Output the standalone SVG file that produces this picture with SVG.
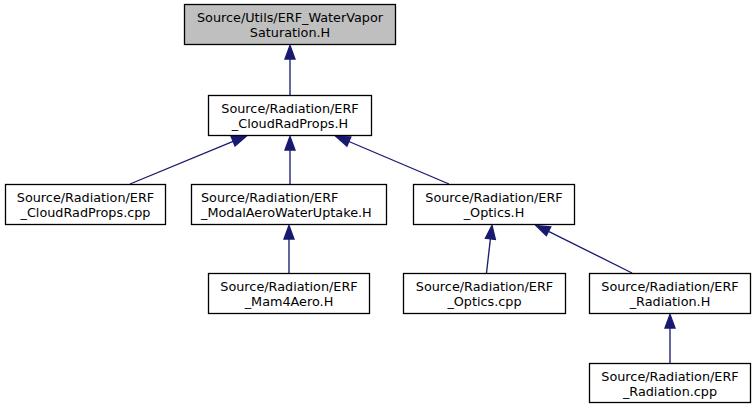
<svg xmlns="http://www.w3.org/2000/svg" width="756" height="409" viewBox="0 0 756 409">
<defs>
<style>
.n rect{fill:#ffffff;stroke:#000000;stroke-width:1.3}
.n.g rect{fill:#bfbfbf}
.n text{font-family:"DejaVu Sans",sans-serif;font-size:12.8px;fill:#000000;text-anchor:middle}
.n text.l{text-anchor:start}
.e line{stroke:#191970;stroke-width:1.33}
.e polygon{fill:#191970;stroke:#191970;stroke-width:1.33}
</style>
</defs>
<rect width="756" height="409" fill="#ffffff"/>
<g id="edges" class="e">
<line x1="290" y1="95" x2="290" y2="59"/>
<polygon points="285,59 290,45.5 295,59"/>
<line x1="130" y1="184" x2="233.1" y2="141.4"/>
<polygon points="235,146 246,136.5 231.2,136.7"/>
<line x1="290" y1="184" x2="290" y2="150"/>
<polygon points="285,150 290,136.5 295,150"/>
<line x1="449" y1="184" x2="348.9" y2="141.5"/>
<polygon points="350.8,136.9 336,136.5 346.9,146.1"/>
<line x1="289" y1="273" x2="289" y2="239"/>
<polygon points="284,239 289,225.5 294,239"/>
<line x1="486.5" y1="273" x2="490.4" y2="238.9"/>
<polygon points="495.4,239.5 492,225.5 485.4,238.3"/>
<line x1="632" y1="273" x2="548.5" y2="231.3"/>
<polygon points="550.8,226.8 536,225.5 546.3,235.7"/>
<line x1="670" y1="363" x2="670" y2="328"/>
<polygon points="665,328 670,314.5 675,328"/>
</g>
<g id="node-top" class="n g">
<rect x="184.5" y="4.5" width="211" height="40"/>
<text x="290" y="22">Source/Utils/ERF_WaterVapor</text>
<text x="290" y="37">Saturation.H</text>
</g>
<g id="node-cloudradprops-h" class="n">
<rect x="208.5" y="95.5" width="163" height="40"/>
<text x="290" y="113">Source/Radiation/ERF</text>
<text x="290" y="128">_CloudRadProps.H</text>
</g>
<g id="node-cloudradprops-cpp" class="n">
<rect x="5.5" y="184.5" width="160" height="40"/>
<text x="85.5" y="202">Source/Radiation/ERF</text>
<text x="85.5" y="217">_CloudRadProps.cpp</text>
</g>
<g id="node-modalaero" class="n">
<rect x="191.5" y="184.5" width="195" height="40"/>
<text class="l" x="201" y="202">Source/Radiation/ERF</text>
<text class="l" x="201" y="217">_ModalAeroWaterUptake.H</text>
</g>
<g id="node-optics-h" class="n">
<rect x="413.5" y="184.5" width="161" height="40"/>
<text x="494" y="202">Source/Radiation/ERF</text>
<text x="494" y="217">_Optics.H</text>
</g>
<g id="node-mam4aero" class="n">
<rect x="208.5" y="273.5" width="161" height="40"/>
<text x="289" y="291">Source/Radiation/ERF</text>
<text x="289" y="306">_Mam4Aero.H</text>
</g>
<g id="node-optics-cpp" class="n">
<rect x="403.5" y="273.5" width="162" height="40"/>
<text x="484.5" y="291">Source/Radiation/ERF</text>
<text x="484.5" y="306">_Optics.cpp</text>
</g>
<g id="node-radiation-h" class="n">
<rect x="589.5" y="273.5" width="161" height="40"/>
<text x="670" y="291">Source/Radiation/ERF</text>
<text x="670" y="306">_Radiation.H</text>
</g>
<g id="node-radiation-cpp" class="n">
<rect x="589.5" y="363.5" width="161" height="39"/>
<text x="670" y="381">Source/Radiation/ERF</text>
<text x="670" y="396">_Radiation.cpp</text>
</g>
</svg>
